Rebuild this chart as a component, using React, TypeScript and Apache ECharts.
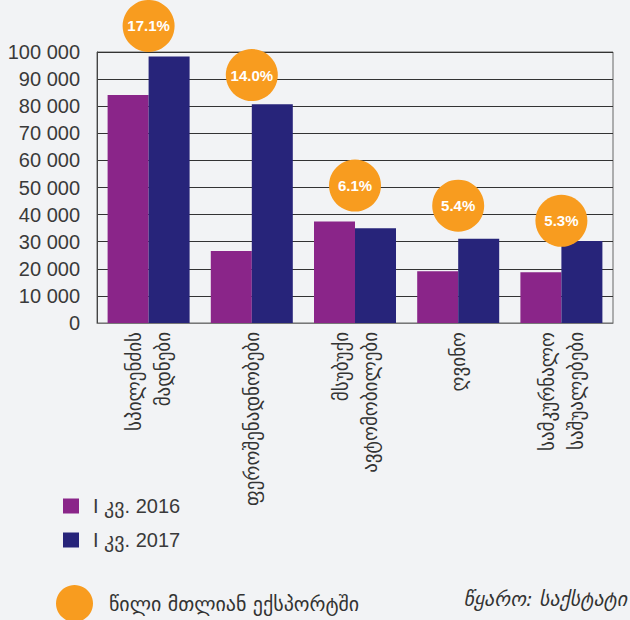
import React, { useEffect, useRef } from "react";
import * as echarts from "echarts";

const categories = [
  "სპილენძის\nმადნები",
  "ფეროშენადნობები",
  "მსუბუქი\nავტომობილები",
  "ღვინო",
  "სამკურნალო\nსაშუალებები",
];
const values2016 = [84100, 26600, 37500, 19100, 18700];
const values2017 = [98300, 80700, 35000, 31100, 30300];
const shares = ["17.1%", "14.0%", "6.1%", "5.4%", "5.3%"];
const bubbleY = [109600, 91500, 50700, 43300, 37700];
const seriesNames = ["I კვ. 2016", "I კვ. 2017"];
const shareName = "წილი მთლიან ექსპორტში";
const sourceText = "წყარო: საქსტატი";

const SANS = "'Liberation Sans', 'DejaVu Sans', sans-serif";
const GEO = "'DejaVu Sans', sans-serif";

function fmt(v: number): string {
  if (v === 0) return "0";
  const s = String(v);
  return s.replace(/\B(?=(\d{3})+(?!\d))/g, " ");
}

export default function App() {
  const ref = useRef<HTMLDivElement>(null);
  useEffect(() => {
    document.body.style.margin = "0";
    document.body.style.background = "#f2f3f5";
    const chart = echarts.init(ref.current!, undefined, { renderer: "svg" });
    chart.setOption({
      animation: false,
      backgroundColor: "#f2f3f5",
      grid: {
        left: 97,
        right: 17,
        top: 52,
        bottom: 297,
        show: true,
        borderColor: "#666",
        borderWidth: 1,
        containLabel: false,
      },
      legend: [
        {
          data: seriesNames.map((n) => ({ name: n, icon: "rect" })),
          orient: "vertical",
          left: 63,
          top: 496,
          padding: 0,
          itemWidth: 16,
          itemHeight: 15,
          itemGap: 14,
          selectedMode: false,
          textStyle: {
            fontSize: 20,
            color: "#3a3a3a",
            fontFamily: SANS,
            padding: [0, 0, 0, 9],
          },
        },
        {
          data: [{ name: shareName, icon: "circle" }],
          left: 56,
          top: 585,
          padding: 0,
          itemWidth: 37,
          itemHeight: 37,
          selectedMode: false,
          textStyle: {
            fontSize: 20,
            color: "#333",
            fontFamily: GEO,
            padding: [0, 0, 0, 11],
          },
        },
      ],
      xAxis: {
        type: "category",
        data: categories,
        axisLine: { show: true, lineStyle: { color: "#777", width: 1 } },
        axisTick: { show: false },
        splitLine: { show: false },
        axisLabel: {
          rotate: 90,
          margin: 9,
          fontSize: 19,
          lineHeight: 29,
          color: "#333",
          fontFamily: GEO,
          interval: 0,
        },
      },
      yAxis: {
        type: "value",
        min: 0,
        max: 100000,
        interval: 10000,
        axisLine: { show: true, lineStyle: { color: "#444", width: 1 } },
        axisTick: { show: false },
        splitLine: { show: true, lineStyle: { color: "#333", width: 1 } },
        axisLabel: {
          formatter: (v: number) => fmt(v),
          fontSize: 20,
          color: "#3a3a3a",
          fontFamily: SANS,
          margin: 17,
        },
      },
      series: [
        {
          name: seriesNames[0],
          type: "bar",
          data: values2016,
          barWidth: 41,
          barGap: "0%",
          itemStyle: { color: "#8a2589" },
        },
        {
          name: seriesNames[1],
          type: "bar",
          data: values2017,
          barWidth: 41,
          barGap: "0%",
          itemStyle: { color: "#27247a" },
        },
        {
          name: shareName,
          type: "scatter",
          data: bubbleY,
          symbol: "circle",
          symbolSize: 52,
          clip: false,
          z: 5,
          itemStyle: { color: "#f89c1f", opacity: 1 },
          label: {
            show: true,
            position: "inside",
            formatter: (p: any) => shares[p.dataIndex],
            color: "#fff",
            fontSize: 15,
            fontWeight: "bold",
            fontFamily: SANS,
          },
        },
      ],
      graphic: [
        {
          type: "text",
          right: 3,
          top: 589,
          style: {
            text: sourceText,
            font: `italic 20px ${GEO}`,
            fill: "#333",
          },
        },
      ],
    });
    return () => chart.dispose();
  }, []);
  return <div ref={ref} style={{ width: 630, height: 620, background: "#f2f3f5" }} />;
}
